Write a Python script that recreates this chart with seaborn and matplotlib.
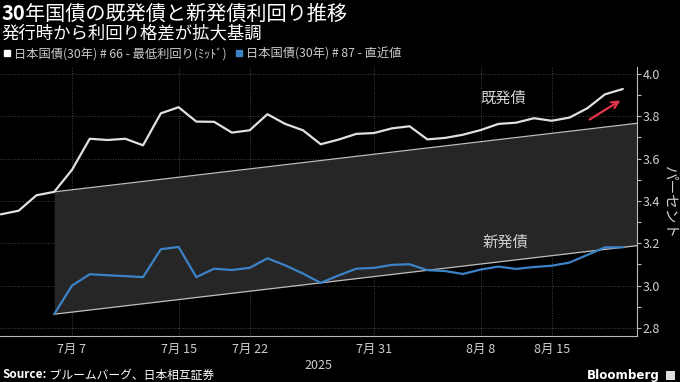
import numpy as np
import pandas as pd
import matplotlib
matplotlib.use('Agg')
import matplotlib.pyplot as plt
import matplotlib.ticker as ticker
from matplotlib.lines import Line2D
from matplotlib.patches import Rectangle
import seaborn as sns


# ── Data ──────────────────────────────────────────────────────────────────────

# Trading days (Tokyo), 2025-07-01 .. 2025-08-21 (7/21 and 8/11 are holidays)
DATES: list[str] = [
    '2025-07-01', '2025-07-02', '2025-07-03', '2025-07-04',
    '2025-07-07', '2025-07-08', '2025-07-09', '2025-07-10', '2025-07-11',
    '2025-07-14', '2025-07-15', '2025-07-16', '2025-07-17', '2025-07-18',
    '2025-07-22', '2025-07-23', '2025-07-24', '2025-07-25',
    '2025-07-28', '2025-07-29', '2025-07-30', '2025-07-31', '2025-08-01',
    '2025-08-04', '2025-08-05', '2025-08-06', '2025-08-07', '2025-08-08',
    '2025-08-12', '2025-08-13', '2025-08-14', '2025-08-15',
    '2025-08-18', '2025-08-19', '2025-08-20', '2025-08-21',
]

# 日本国債(30年) #66 (既発債)
OLD_YIELD: list[float] = [
    3.337, 3.354, 3.427, 3.443,
    3.547, 3.694, 3.688, 3.694, 3.663,
    3.814, 3.843, 3.775, 3.774, 3.723,
    3.734, 3.810, 3.764, 3.734,
    3.668, 3.690, 3.717, 3.721, 3.743,
    3.753, 3.691, 3.698, 3.713, 3.735,
    3.764, 3.770, 3.791, 3.779,
    3.794, 3.838, 3.904, 3.929,
]

# 日本国債(30年) #87 (新発債), first auctioned 7/4
NEW_YIELD: list[float] = [
    np.nan, np.nan, np.nan, 2.865,
    3.000, 3.054, 3.049, 3.045, 3.040,
    3.172, 3.183, 3.040, 3.080, 3.074,
    3.084, 3.129, 3.096, 3.057,
    3.013, 3.048, 3.080, 3.084, 3.098,
    3.101, 3.073, 3.069, 3.055, 3.076,
    3.090, 3.079, 3.088, 3.094,
    3.109, 3.145, 3.181, 3.181,
]

# trend lines of the widening band (start day index, end at right edge)
TREND_X: list[float] = [3, 35.8]
OLD_TREND: list[float] = [3.443, 3.767]
NEW_TREND: list[float] = [2.865, 3.189]

TICK_DATES: list[str] = ['2025-07-07', '2025-07-15', '2025-07-22',
                         '2025-07-31', '2025-08-08', '2025-08-15']


# ── Style ─────────────────────────────────────────────────────────────────────

BG: str = '#000000'
TEXT: str = '#ffffff'
TICK_TEXT: str = '#d0d0d0'
COLOUR_OLD: str = '#e0e0e0'
COLOUR_NEW: str = '#3c82c8'
BAND: str = '#262626'
BAND_EDGE: str = '#bdbdbd'
ARROW_RED: str = '#e3344c'

sns.set_theme(style='dark', rc={
    'figure.facecolor': BG,
    'axes.facecolor': BG,
    'savefig.facecolor': BG,
})
plt.rcParams['font.family'] = ['Noto Sans CJK JP', 'DejaVu Sans']

df = pd.DataFrame({
    'day': np.arange(len(DATES)),
    'old': OLD_YIELD,
    'new': NEW_YIELD,
})

fig = plt.figure(figsize=(6.8, 3.82), dpi=100)
ax = fig.add_axes([0.0, 0.1204, 0.9368, 0.7042])

# band between trend lines
ax.fill_between(TREND_X, NEW_TREND, OLD_TREND, color=BAND, lw=0, zorder=1)
ax.plot(TREND_X, OLD_TREND, color=BAND_EDGE, lw=0.9, zorder=2)
ax.plot(TREND_X, NEW_TREND, color=BAND_EDGE, lw=0.9, zorder=2)

sns.lineplot(data=df, x='day', y='old', color=COLOUR_OLD, lw=1.6, ax=ax, zorder=4)
sns.lineplot(data=df, x='day', y='new', color=COLOUR_NEW, lw=1.6, ax=ax, zorder=4)

ax.annotate('', xy=(35.0, 3.882), xytext=(33.0, 3.778),
            arrowprops=dict(arrowstyle='->', color=ARROW_RED, lw=1.6,
                            mutation_scale=12), zorder=5)
ax.text(28.25, 3.887, '既発債', color='#d0d0d0', fontsize=11,
        ha='center', va='center', zorder=5)
ax.text(28.4, 3.205, '新発債', color='#d0d0d0', fontsize=11,
        ha='center', va='center', zorder=5)

# axes
ax.set_xlim(-0.05, 35.8)
ax.set_ylim(2.762, 4.033)

tick_pos = [DATES.index(d) for d in TICK_DATES]
tick_lab = [f'{int(d[5:7])}月 {int(d[8:10])}' for d in TICK_DATES]
ax.set_xticks(tick_pos)
ax.set_xticklabels(tick_lab)
ax.set_xticks(df['day'], minor=True)

ax.yaxis.tick_right()
ax.yaxis.set_label_position('right')
ax.yaxis.set_major_locator(ticker.MultipleLocator(0.2))
ax.yaxis.set_minor_locator(ticker.MultipleLocator(0.1))
ax.yaxis.set_major_formatter(ticker.FormatStrFormatter('%.1f'))

ax.tick_params(axis='both', which='both', direction='out', length=3,
               width=0.8, color='#bbbbbb', labelcolor=TICK_TEXT, labelsize=9)
ax.tick_params(axis='x', pad=2)
ax.tick_params(axis='y', pad=1)

ax.set_xlabel('')
ax.set_ylabel('パーセント', rotation=270, color=TICK_TEXT, fontsize=10.5, labelpad=12)

for side in ['left', 'top']:
    ax.spines[side].set_visible(False)
for side in ['right', 'bottom']:
    ax.spines[side].set_visible(True)
    ax.spines[side].set_color('#bbbbbb')
    ax.spines[side].set_linewidth(0.8)

ax.grid(True, which='major', color='#5a5a5a', linestyle=(0, (1, 2)), linewidth=0.6)
ax.set_axisbelow(True)

ax.text(0.5, -0.085, '2025', transform=ax.transAxes, color=TICK_TEXT,
        fontsize=9, ha='center', va='top')

# legend
handles = [
    Line2D([], [], ls='none', marker='s', markersize=5, color='#ffffff'),
    Line2D([], [], ls='none', marker='s', markersize=5, color=COLOUR_NEW),
]
labels = ['日本国債(30年) # 66 - 最低利回り(ﾐｯﾄﾞ)', '日本国債(30年) # 87 - 直近値']
fig.legend(handles, labels, loc='center left', bbox_to_anchor=(-0.003, 1 - 54 / 382),
           ncol=2, frameon=False, fontsize=8.8, labelcolor='#cccccc',
           handlelength=0.5, handletextpad=0.3, columnspacing=0.8, borderpad=0)

# title / subtitle / footer
fig.canvas.draw()
renderer = fig.canvas.get_renderer()
inv = fig.transFigure.inverted()


def two_part(x, y, bold_txt, rest_txt, size, colour):
    t1 = fig.text(x, y, bold_txt, fontsize=size, weight='bold', color=colour,
                  ha='left', va='center')
    bb = t1.get_window_extent(renderer)
    x2 = inv.transform((bb.x1, bb.y0))[0]
    fig.text(x2, y, rest_txt, fontsize=size, color=colour, ha='left', va='center')


two_part(0.002, 1 - 14 / 382, '30', '年国債の既発債と新発債利回り推移', 14.5, TEXT)
fig.text(0.002, 1 - 33 / 382, '発行時から利回り格差が拡大基調', fontsize=12.5,
         color=TEXT, ha='left', va='center')
two_part(0.004, 1 - 375 / 382, 'Source:', ' ブルームバーグ、日本相互証券', 8.5, TEXT)

fig.text(0.970, 1 - 375 / 382, 'Bloomberg', fontsize=8.6, weight='bold',
         color=TEXT, ha='right', va='center', family='DejaVu Sans')
fig.patches.append(Rectangle((666 / 680, 1 - 380 / 382), 9 / 680, 9 / 382,
                             transform=fig.transFigure, facecolor='#dddddd',
                             edgecolor='none'))

fig.savefig('out.png', dpi=100, facecolor=BG)
